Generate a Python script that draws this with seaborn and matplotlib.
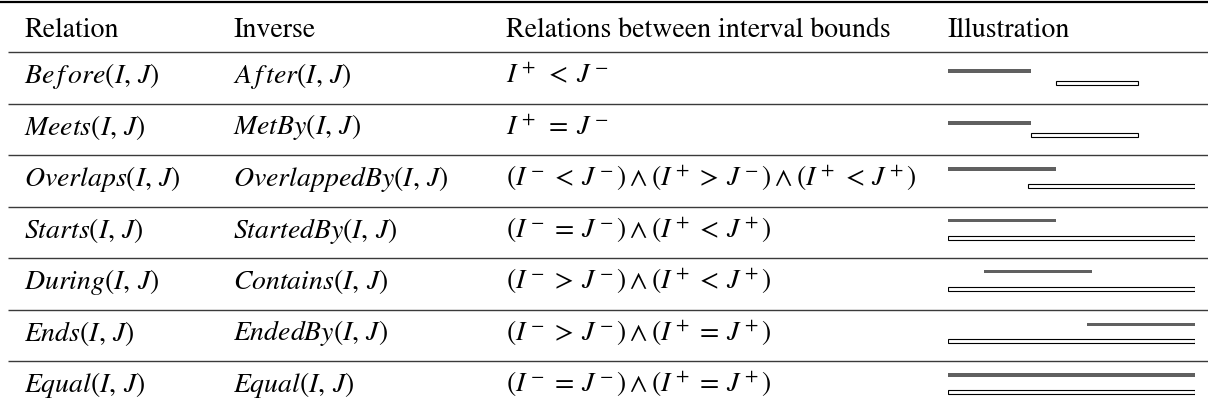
import matplotlib
matplotlib.use("Agg")
import matplotlib.pyplot as plt
import seaborn as sns

# ---- data ----
headers = ["Relation", "Inverse", "Relations between interval bounds", "Illustration"]
relations = ["Be\\,f\\,ore", "Meets", "Overlaps", "Starts", "During", "Ends", "Equal"]
inverses = ["A\\,f\\,ter", "MetBy", "OverlappedBy", "StartedBy", "Contains", "EndedBy", "Equal"]
bounds = [
    r"I^+ \;<\; J^-",
    r"I^+ \;=\; J^-",
    r"(I^- \,<\, J^-) \wedge (I^+ \,>\, J^-) \wedge (I^+ \,<\, J^+)",
    r"(I^- \,=\, J^-) \wedge (I^+ \,<\, J^+)",
    r"(I^- \,>\, J^-) \wedge (I^+ \,<\, J^+)",
    r"(I^- \,>\, J^-) \wedge (I^+ \,=\, J^+)",
    r"(I^- \,=\, J^-) \wedge (I^+ \,=\, J^+)",
]
i_start = [0, 0, 0, 0, 14.6, 56.3, 0]
i_end = [33.6, 33.6, 43.7, 43.7, 58.3, 100, 100]
j_start = [43.7, 33.6, 32.4, 0, 0, 0, 0]
j_end = [76.9, 76.9, 100, 100, 100, 100, 100]

# ---- style ----
sns.set_theme(style="white")
plt.rcParams["mathtext.fontset"] = "stix"
plt.rcParams["font.family"] = ["STIXGeneral", "DejaVu Serif"]

W, H = 1208, 412
fig = plt.figure(figsize=(W / 100, H / 100), dpi=100)
ax = fig.add_axes([0, 0, 1, 1])
ax.set_xlim(0, W)
ax.set_ylim(H, 0)
ax.axis("off")

fs = 20
col_x = [24, 233, 506, 947]
row_top0 = 52.3
row_h = 51.5
n = len(relations)

# rules
ax.plot([0, W], [2, 2], color="black", lw=1.6, solid_capstyle="butt")
for k in range(n):
    y = row_top0 + k * row_h
    ax.plot([8, W], [y, y], color="#3a3a3a", lw=1.0, solid_capstyle="butt")

# header
for x, h in zip(col_x, headers):
    ax.text(x, 37, h, fontsize=fs, va="baseline", ha="left", color="black")

# rows
for k in range(n):
    yb = row_top0 + k * row_h + 30.7
    ax.text(col_x[0], yb, f"${relations[k]}(I,\\, J)$", fontsize=fs, va="baseline", color="black")
    ax.text(col_x[1], yb, f"${inverses[k]}(I,\\, J)$", fontsize=fs, va="baseline", color="black")
    ax.text(col_x[2], yb, f"${bounds[k]}$", fontsize=fs, va="baseline", color="black")

# illustration axes: x in interval units (0..100), y in pixels
ix0, ix1 = 948, 1195
iax = fig.add_axes([ix0 / W, 0, (ix1 - ix0) / W, 1])
iax.set_xlim(0, 100)
iax.set_ylim(H, 0)
iax.axis("off")
iax.patch.set_alpha(0)

i_off = [18.7, 19.2, 13.6, 14.0, 13.0, 15.0, 13.7]
j_off = 31.0
for k in range(n):
    top = row_top0 + k * row_h
    iax.barh(top + i_off[k], i_end[k] - i_start[k], left=i_start[k], height=3.3,
             color="#606060", edgecolor="none")
    iax.barh(top + j_off, j_end[k] - j_start[k], left=j_start[k], height=3.8,
             color="white", edgecolor="black", linewidth=0.8)

fig.savefig("out.png", dpi=100)
